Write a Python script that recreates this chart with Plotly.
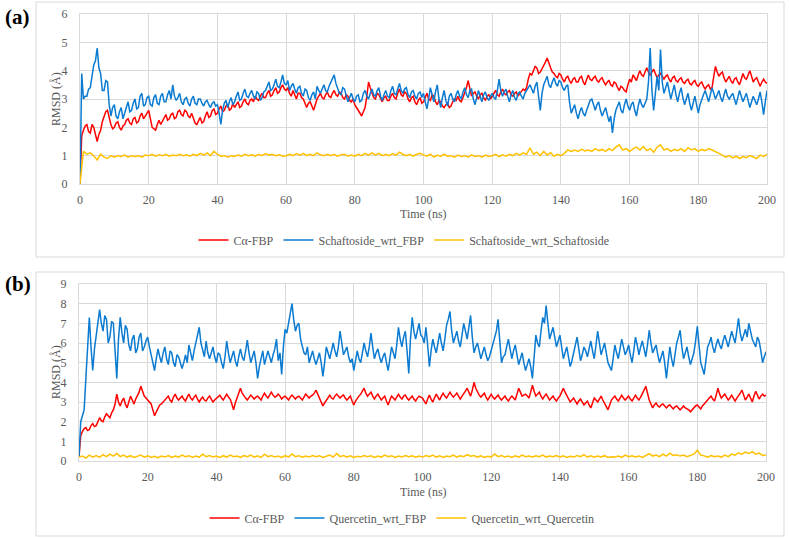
import plotly.graph_objects as go

# ---------------- data ----------------
# time axes: main series sampled every 0.5 ns, ligand-self series every 1 ns
time_half_ns = [i * 0.5 for i in range(401)]
time_ns = list(range(0, 201))

# Panel (a)
ca_fbp_a = [
    0.0, 1.7, 1.9, 2.05, 2.1, 1.85, 1.8, 2.1, 2.0, 1.7, 1.5, 1.75, 1.9, 2.2, 2.4, 2.55, 2.6, 2.3, 2.1, 1.95,
    2.0, 2.15, 2.2, 2.0, 1.9, 2.05, 2.1, 2.25, 2.3, 2.15, 2.1, 2.3, 2.35, 2.15, 2.2, 2.4, 2.5, 2.3, 2.4, 2.55,
    2.6, 2.3, 2.0, 1.95, 1.9, 2.1, 2.25, 2.1, 2.2, 2.35, 2.45, 2.25, 2.3, 2.45, 2.5, 2.3, 2.35, 2.55, 2.6, 2.45,
    2.4, 2.6, 2.55, 2.4, 2.35, 2.5, 2.3, 2.15, 2.1, 2.25, 2.35, 2.15, 2.2, 2.4, 2.55, 2.35, 2.4, 2.6, 2.65, 2.45,
    2.5, 2.65, 2.75, 2.55, 2.6, 2.75, 2.8, 2.6, 2.65, 2.85, 2.7, 2.8, 2.9, 2.7, 2.75, 2.9, 3.0, 2.85, 2.8, 2.95,
    3.0, 2.9, 3.1, 3.0, 2.95, 3.1, 3.2, 3.05, 3.05, 3.2, 3.3, 3.1, 3.15, 3.3, 3.4, 3.2, 3.25, 3.4, 3.5, 3.35,
    3.3, 3.4, 3.2, 3.1, 3.3, 3.15, 3.0, 3.2, 3.2, 3.05, 3.0, 2.85, 2.7, 2.85, 2.9, 2.75, 2.6, 2.8, 3.0, 3.1,
    3.2, 3.05, 3.0, 3.15, 3.25, 3.1, 3.05, 3.2, 3.3, 3.15, 3.1, 3.25, 3.2, 3.05, 3.0, 3.15, 3.1, 2.95, 2.9, 3.0,
    2.8, 2.7, 2.6, 2.45, 2.4, 2.55, 2.7, 3.1, 3.6, 3.4, 3.2, 3.05, 3.0, 3.2, 3.15, 3.0, 2.9, 3.05, 3.1, 2.95,
    2.95, 3.1, 3.2, 3.05, 3.0, 3.2, 3.35, 3.15, 3.1, 3.25, 3.2, 3.0, 2.9, 3.05, 3.1, 2.9, 2.8, 2.95, 3.05, 2.85,
    2.9, 3.05, 3.2, 3.0, 2.95, 3.15, 3.1, 2.9, 2.8, 2.95, 2.9, 2.75, 2.7, 2.8, 2.85, 2.7, 2.75, 2.9, 3.0, 2.95,
    3.1, 2.95, 2.9, 3.05, 3.2, 3.4, 3.65, 3.3, 3.1, 3.2, 3.25, 3.1, 3.0, 3.15, 3.2, 3.05, 2.95, 3.1, 3.15, 3.0,
    3.1, 3.2, 3.3, 3.15, 3.1, 3.25, 3.35, 3.2, 3.15, 3.25, 3.3, 3.15, 3.1, 3.2, 3.25, 3.1, 3.2, 3.3, 3.35, 3.3,
    3.4, 3.7, 3.9, 3.85, 4.0, 4.15, 4.1, 3.9, 3.95, 4.05, 4.15, 4.3, 4.45, 4.25, 4.1, 3.95, 3.9, 3.8, 3.75, 3.9,
    3.85, 3.7, 3.6, 3.75, 3.8, 3.65, 3.55, 3.7, 3.75, 3.6, 3.6, 3.75, 3.8, 3.6, 3.5, 3.7, 3.85, 3.7, 3.65, 3.75,
    3.8, 3.65, 3.6, 3.7, 3.75, 3.6, 3.5, 3.6, 3.65, 3.5, 3.45, 3.6, 3.55, 3.4, 3.3, 3.45, 3.4, 3.3, 3.25, 3.5,
    3.7, 3.6, 3.85, 3.75, 3.65, 3.85, 4.0, 3.85, 3.8, 3.95, 4.1, 3.95, 3.85, 3.95, 4.05, 3.9, 3.75, 3.85, 3.9, 3.8,
    3.7, 3.8, 3.85, 3.7, 3.6, 3.75, 3.8, 3.65, 3.6, 3.7, 3.75, 3.6, 3.55, 3.65, 3.7, 3.55, 3.5, 3.6, 3.65, 3.5,
    3.45, 3.55, 3.6, 3.45, 3.35, 3.45, 3.5, 3.35, 3.4, 3.8, 4.15, 3.95, 3.8, 3.9, 3.95, 3.75, 3.6, 3.7, 3.8, 3.65,
    3.55, 3.7, 3.75, 3.6, 3.5, 3.7, 3.9, 3.75, 3.7, 3.85, 4.0, 3.8, 3.6, 3.7, 3.75, 3.6, 3.45, 3.6, 3.7, 3.6,
    3.55,
]
schaftoside_wrt_fbp = [
    0.0, 3.9, 3.0, 3.1, 3.1, 3.35, 3.4, 3.9, 4.2, 4.35, 4.8, 4.1, 3.9, 3.3, 3.3, 3.65, 3.6, 2.8, 2.4, 2.7,
    2.8, 2.4, 2.3, 2.55, 2.7, 2.3, 2.5, 2.75, 2.9, 2.55, 2.6, 2.85, 3.0, 2.65, 2.7, 3.1, 3.2, 2.75, 2.8, 3.05,
    3.1, 2.8, 2.75, 3.05, 3.15, 2.85, 2.8, 3.1, 3.2, 2.9, 2.9, 3.15, 3.3, 3.0, 3.5, 3.1, 2.95, 3.05, 3.2, 2.9,
    2.8, 3.0, 3.05, 2.85, 2.75, 3.0, 3.1, 2.85, 2.8, 3.0, 3.0, 2.85, 2.75, 2.9, 2.95, 2.8, 2.7, 2.85, 2.9, 2.75,
    2.8, 2.5, 2.1, 2.6, 2.85, 2.95, 2.7, 2.9, 3.05, 2.8, 2.9, 3.1, 3.25, 2.95, 3.0, 3.2, 3.35, 3.1, 3.05, 3.2,
    3.3, 3.1, 3.0, 3.25, 3.2, 2.95, 3.05, 3.25, 3.3, 3.45, 3.6, 3.3, 3.35, 3.5, 3.7, 3.45, 3.4, 3.6, 3.85, 3.55,
    3.5, 3.65, 3.3, 3.45, 3.55, 3.35, 3.2, 3.4, 3.45, 3.2, 3.1, 3.35, 3.3, 3.05, 2.95, 3.15, 3.25, 3.0, 3.45, 3.3,
    3.2, 3.35, 3.5, 3.3, 3.25, 3.45, 3.6, 3.7, 3.85, 3.55, 3.4, 3.2, 3.15, 3.4, 3.35, 3.1, 2.9, 3.05, 3.2, 3.0,
    2.9, 3.1, 3.15, 2.9, 2.95, 3.2, 3.3, 3.1, 3.0, 3.2, 3.35, 3.15, 3.1, 3.3, 3.4, 3.1, 2.95, 3.15, 3.3, 3.1,
    3.05, 3.3, 3.45, 3.2, 3.15, 3.35, 3.55, 3.3, 3.2, 3.35, 3.4, 3.15, 3.05, 3.25, 3.3, 3.1, 3.0, 3.2, 3.25, 3.05,
    3.2, 2.9, 2.65, 3.0, 3.4, 3.15, 2.9, 3.25, 3.5, 3.0, 2.7, 3.05, 3.3, 2.95, 2.75, 3.1, 3.2, 3.0, 2.9, 3.15,
    3.3, 3.1, 3.0, 3.25, 3.4, 3.15, 3.05, 3.3, 3.35, 3.0, 2.8, 3.05, 3.3, 3.1, 2.9, 3.15, 3.25, 3.05, 2.95, 3.1,
    3.2, 3.05, 3.0, 3.3, 3.7, 3.3, 3.1, 3.25, 3.35, 3.1, 2.9, 3.15, 3.3, 3.05, 2.95, 3.2, 3.25, 3.1, 3.0, 3.2,
    3.3, 3.45, 3.5, 3.35, 3.2, 3.45, 3.6, 3.1, 2.6, 3.2, 3.5, 3.65, 3.8, 3.5, 3.4, 3.6, 3.75, 3.55, 3.45, 3.65,
    3.6, 3.4, 3.3, 3.45, 3.5, 2.9, 2.5, 2.65, 2.8, 2.5, 2.3, 2.55, 2.7, 2.5, 2.4, 2.6, 2.8, 2.95, 3.0, 2.75,
    2.6, 2.8, 2.9, 2.6, 2.4, 2.55, 2.7, 2.45, 2.2, 2.4, 1.8, 2.3, 2.6, 2.75, 2.9, 2.6, 2.5, 2.8, 3.0, 2.75,
    2.6, 2.8, 2.9, 2.6, 2.4, 2.75, 3.0, 2.8, 2.7, 2.85, 3.0, 3.6, 4.8, 3.3, 2.6, 3.2, 3.8, 3.3, 4.75, 3.6,
    3.2, 3.4, 3.6, 3.3, 3.0, 3.25, 3.5, 3.15, 2.9, 3.2, 3.4, 3.05, 2.8, 3.0, 3.2, 2.85, 2.6, 2.85, 3.1, 2.8,
    2.5, 2.8, 3.0, 3.15, 3.3, 3.05, 2.9, 3.15, 3.4, 3.2, 3.0, 3.15, 3.3, 3.05, 2.9, 3.15, 3.35, 3.1, 3.0, 3.1,
    3.2, 3.0, 2.8, 3.05, 3.3, 3.1, 2.9, 3.05, 3.2, 2.95, 2.7, 2.9, 3.1, 2.95, 2.8, 3.0, 3.25, 2.9, 2.45, 2.9,
    3.3,
]
schaftoside_wrt_schaftoside = [
    0.0, 1.15, 1.05, 1.1, 1.0, 0.85, 1.05, 0.95, 0.9, 1.0,
    0.95, 1.0, 0.97, 1.02, 0.95, 1.0, 0.97, 1.0, 0.95, 1.02,
    1.0, 1.05, 0.98, 1.03, 1.0, 1.05, 0.98, 1.02, 1.0, 1.05,
    1.0, 1.03, 0.98, 1.05, 1.0, 1.08, 1.02, 1.1, 1.0, 1.15,
    1.05, 0.98, 1.0, 0.95, 1.0, 0.97, 1.02, 0.98, 1.05, 1.0,
    1.03, 0.98, 1.05, 1.0, 1.07, 1.02, 1.05, 1.0, 1.03, 0.98,
    1.0, 1.05, 1.0, 1.07, 1.02, 1.08, 1.0, 1.05, 1.0, 1.1,
    1.03, 1.0, 1.05, 1.0, 1.05, 0.98, 1.03, 1.05, 0.98, 1.02,
    0.98, 1.05, 1.0, 1.08, 1.02, 1.1, 1.03, 1.08, 1.0, 1.05,
    1.0, 1.07, 1.02, 1.12, 1.05, 1.0, 1.05, 0.98, 1.05, 1.08,
    1.03, 0.98, 1.05, 0.95, 1.02, 0.97, 1.05, 0.98, 1.0, 0.95,
    1.02, 0.97, 1.0, 0.95, 1.03, 0.97, 1.0, 0.95, 1.02, 0.97,
    1.0, 1.05, 0.97, 1.03, 0.98, 1.05, 1.0, 1.08, 1.02, 1.1,
    1.05, 1.28, 1.05, 1.12, 1.0, 1.15, 1.02, 1.1, 0.98, 1.05,
    1.0, 1.08, 1.2, 1.15, 1.2, 1.15, 1.22, 1.17, 1.2, 1.15,
    1.25, 1.18, 1.22, 1.15, 1.25, 1.18, 1.3, 1.38, 1.2, 1.25,
    1.15, 1.25, 1.3, 1.2, 1.32, 1.18, 1.25, 1.12, 1.3, 1.38,
    1.2, 1.25, 1.15, 1.22, 1.18, 1.25, 1.15, 1.28, 1.2, 1.25,
    1.15, 1.22, 1.18, 1.25, 1.2, 1.15, 1.08, 1.02, 0.95, 1.0,
    0.92, 0.98, 0.9, 0.97, 0.93, 1.0, 0.95, 0.9, 1.02, 0.97,
    1.05,
]

# Panel (b)
ca_fbp_b = [
    0.2, 1.3, 1.5, 1.65, 1.7, 1.55, 1.6, 1.8, 1.9, 1.75, 1.8, 2.0, 2.2, 2.05, 2.0, 2.25, 2.4, 2.3, 2.2, 2.45,
    2.6, 2.9, 3.4, 3.0, 2.8, 3.05, 3.2, 2.9, 2.7, 3.0, 3.3, 3.1, 2.9, 3.15, 3.3, 3.5, 3.8, 3.55, 3.3, 3.2,
    3.1, 3.0, 2.9, 2.6, 2.3, 2.5, 2.7, 2.85, 2.9, 3.0, 3.1, 3.2, 3.3, 3.1, 3.0, 3.25, 3.4, 3.2, 3.1, 3.2,
    3.3, 3.15, 3.05, 3.25, 3.4, 3.2, 3.1, 3.25, 3.35, 3.15, 3.0, 3.15, 3.25, 3.1, 3.05, 3.2, 3.3, 3.15, 3.0, 3.1,
    3.2, 3.3, 3.35, 3.2, 3.1, 3.25, 3.4, 3.25, 3.15, 2.9, 2.6, 2.95, 3.2, 3.45, 3.7, 3.45, 3.3, 3.2, 3.1, 3.25,
    3.35, 3.25, 3.15, 3.25, 3.3, 3.2, 3.1, 3.3, 3.45, 3.3, 3.2, 3.35, 3.5, 3.35, 3.25, 3.3, 3.4, 3.3, 3.15, 3.25,
    3.3, 3.2, 3.1, 3.25, 3.35, 3.25, 3.15, 3.25, 3.3, 3.2, 3.1, 3.25, 3.4, 3.3, 3.2, 3.3, 3.35, 3.45, 3.6, 3.4,
    3.2, 3.0, 2.8, 2.95, 3.1, 3.25, 3.35, 3.2, 3.15, 3.3, 3.4, 3.3, 3.2, 3.3, 3.35, 3.2, 3.1, 3.2, 3.3, 3.05,
    2.85, 3.05, 3.2, 3.3, 3.4, 3.55, 3.7, 3.45, 3.3, 3.4, 3.5, 3.3, 3.15, 3.3, 3.4, 3.25, 3.1, 3.2, 3.3, 3.05,
    2.85, 3.1, 3.3, 3.2, 3.1, 3.25, 3.4, 3.25, 3.15, 3.3, 3.35, 3.2, 3.1, 3.2, 3.3, 3.15, 3.05, 3.2, 3.3, 3.25,
    3.2, 3.05, 2.9, 3.15, 3.35, 3.15, 3.0, 3.2, 3.4, 3.25, 3.1, 3.3, 3.45, 3.3, 3.2, 3.35, 3.5, 3.35, 3.25, 3.35,
    3.45, 3.3, 3.15, 3.3, 3.4, 3.55, 3.7, 3.5, 3.3, 3.6, 4.0, 3.7, 3.5, 3.35, 3.25, 3.35, 3.45, 3.25, 3.1, 3.25,
    3.4, 3.25, 3.15, 3.25, 3.35, 3.2, 3.1, 3.2, 3.3, 3.15, 3.05, 3.2, 3.3, 3.2, 3.1, 3.4, 3.7, 3.5, 3.3, 3.35,
    3.4, 3.3, 3.2, 3.5, 3.85, 3.55, 3.3, 3.4, 3.5, 3.3, 3.15, 3.3, 3.4, 3.25, 3.1, 3.2, 3.3, 3.15, 3.05, 3.2,
    3.3, 3.5, 3.7, 3.5, 3.35, 3.15, 3.0, 3.1, 3.2, 3.05, 2.9, 3.05, 3.15, 3.0, 2.85, 2.95, 3.05, 2.85, 2.7, 2.95,
    3.2, 3.1, 3.0, 3.15, 3.3, 3.1, 2.95, 2.75, 2.6, 2.85, 3.1, 3.2, 3.3, 3.15, 3.05, 3.2, 3.35, 3.2, 3.1, 3.2,
    3.3, 3.15, 3.05, 3.2, 3.35, 3.2, 3.1, 3.25, 3.4, 3.6, 3.8, 3.4, 3.1, 2.9, 2.7, 2.85, 2.95, 2.8, 2.75, 2.85,
    2.9, 2.8, 2.7, 2.8, 2.85, 2.75, 2.65, 2.75, 2.8, 2.7, 2.6, 2.7, 2.8, 2.7, 2.65, 2.6, 2.5, 2.6, 2.75, 2.8,
    2.85, 2.75, 2.65, 2.8, 2.9, 3.0, 3.1, 3.2, 3.3, 3.15, 3.05, 3.35, 3.7, 3.4, 3.2, 3.3, 3.4, 3.25, 3.1, 3.2,
    3.35, 3.2, 3.05, 3.2, 3.3, 3.45, 3.6, 3.3, 3.1, 3.25, 3.4, 3.2, 3.0, 3.3, 3.55, 3.35, 3.15, 3.3, 3.4, 3.3,
    3.35,
]
quercetin_wrt_fbp = [
    0.2, 2.0, 2.3, 2.6, 4.2, 5.5, 7.3, 5.8, 4.6, 5.7, 6.4, 7.2, 7.7, 7.0, 6.6, 7.4, 7.2, 6.0, 6.3, 7.1,
    7.0, 5.6, 4.2, 6.2, 7.3, 6.5, 6.0, 6.9, 6.7, 5.9, 5.6, 6.2, 6.4, 5.5, 5.7, 6.3, 6.5, 5.6, 5.8, 6.1,
    6.3, 5.8, 5.4, 4.9, 4.6, 5.2, 5.7, 5.3, 5.0, 5.5, 5.8, 5.2, 4.9, 5.6, 5.5, 5.0, 4.8, 5.4, 5.3, 5.0,
    4.7, 5.0, 5.4, 5.0, 5.9, 5.5, 5.1, 5.6, 6.0, 6.3, 6.8, 6.0, 5.6, 5.3, 6.1, 5.5, 5.2, 5.5, 5.8, 5.3,
    5.0, 5.5, 5.4, 5.0, 4.7, 5.3, 6.1, 5.5, 5.0, 5.3, 5.6, 5.1, 4.8, 5.3, 5.7, 5.3, 5.1, 5.6, 6.15, 5.5,
    5.0, 5.3, 5.6, 5.0, 4.2, 4.8, 5.3, 5.6, 4.9, 5.2, 5.6, 5.3, 5.0, 5.4, 5.7, 6.2, 5.1, 5.5, 4.4, 5.8,
    6.7, 6.5, 7.0, 7.3, 8.0, 7.2, 6.6, 6.9, 7.0, 6.2, 5.8, 5.5, 5.4, 5.8, 5.0, 5.3, 5.6, 5.2, 4.9, 5.2,
    5.5, 5.0, 4.3, 5.0, 5.8, 5.5, 5.2, 5.6, 6.0, 5.6, 5.3, 5.8, 6.6, 6.0, 5.4, 5.6, 5.8, 5.3, 5.0, 5.2,
    4.6, 5.1, 5.6, 5.2, 5.0, 5.5, 6.0, 5.6, 5.3, 5.8, 6.5, 5.8, 5.2, 5.5, 5.7, 5.3, 5.0, 5.3, 5.5, 5.0,
    4.6, 5.2, 5.8, 5.5, 5.2, 5.9, 6.8, 6.2, 5.8, 6.3, 6.6, 5.6, 4.45, 6.2, 7.3, 6.6, 6.2, 6.6, 7.0, 6.4,
    6.3, 6.0, 6.8, 5.9, 4.8, 5.6, 6.2, 5.8, 5.5, 6.0, 6.5, 6.0, 5.6, 6.2, 6.9, 7.2, 7.6, 6.6, 6.0, 6.3,
    6.6, 6.1, 5.8, 6.4, 7.0, 6.6, 6.2, 6.8, 7.4, 6.3, 5.5, 5.8, 6.0, 5.6, 5.2, 5.5, 5.8, 5.4, 5.1, 5.3,
    5.6, 5.9, 6.2, 6.6, 7.2, 6.1, 5.0, 5.3, 5.4, 5.8, 6.2, 5.7, 5.2, 5.6, 5.9, 5.4, 4.9, 5.2, 5.5, 5.0,
    4.6, 4.9, 5.2, 4.8, 4.2, 5.3, 6.4, 6.0, 5.8, 6.6, 7.3, 7.0, 7.9, 7.0, 6.2, 6.5, 6.8, 6.3, 5.8, 6.1,
    6.4, 5.8, 5.2, 5.5, 5.8, 5.3, 4.8, 5.1, 5.5, 5.9, 6.3, 5.7, 5.1, 5.4, 5.8, 5.6, 5.3, 5.7, 6.1, 5.6,
    5.2, 5.9, 6.6, 6.0, 5.4, 5.7, 6.0, 5.5, 5.0, 4.8, 4.6, 5.2, 5.9, 5.5, 5.2, 5.7, 6.2, 5.8, 5.4, 5.6,
    5.9, 5.4, 5.0, 5.6, 6.3, 5.9, 5.4, 5.8, 6.1, 5.7, 5.3, 5.9, 6.65, 6.0, 5.5, 5.7, 5.9, 5.4, 5.0, 5.3,
    5.6, 5.0, 4.2, 5.0, 5.8, 5.2, 4.8, 5.4, 6.0, 6.3, 6.65, 5.8, 5.2, 5.5, 5.8, 5.3, 4.9, 5.2, 5.5, 6.1,
    6.85, 5.9, 5.0, 4.7, 4.4, 5.1, 5.8, 6.0, 6.3, 5.8, 5.5, 5.9, 6.2, 5.9, 5.7, 6.1, 6.4, 6.1, 5.8, 6.2,
    6.6, 6.3, 6.0, 6.6, 7.25, 6.5, 6.1, 6.4, 6.7, 6.3, 7.0, 6.6, 6.2, 6.0, 5.8, 6.3, 6.1, 5.6, 5.0, 5.3,
    5.55,
]
quercetin_wrt_quercetin = [
    0.2, 0.25, 0.15, 0.3, 0.2, 0.28, 0.18, 0.32, 0.22, 0.35,
    0.25, 0.38, 0.22, 0.3, 0.2, 0.27, 0.18, 0.25, 0.3, 0.2,
    0.26, 0.18, 0.24, 0.17, 0.25, 0.2, 0.28, 0.18, 0.25, 0.2,
    0.3, 0.22, 0.27, 0.18, 0.25, 0.2, 0.35, 0.22, 0.28, 0.2,
    0.25, 0.18, 0.27, 0.2, 0.3, 0.22, 0.25, 0.18, 0.28, 0.22,
    0.3, 0.2, 0.26, 0.18, 0.35, 0.22, 0.28, 0.2, 0.25, 0.18,
    0.27, 0.2, 0.36, 0.22, 0.27, 0.19, 0.25, 0.2, 0.28, 0.22,
    0.26, 0.18, 0.24, 0.3, 0.2, 0.38, 0.22, 0.28, 0.2, 0.26,
    0.18, 0.24, 0.2, 0.28, 0.22, 0.26, 0.18, 0.25, 0.2, 0.3,
    0.22, 0.27, 0.18, 0.25, 0.2, 0.28, 0.22, 0.26, 0.19, 0.25,
    0.2, 0.28, 0.22, 0.3, 0.2, 0.26, 0.18, 0.25, 0.22, 0.3,
    0.2, 0.27, 0.22, 0.32, 0.24, 0.28, 0.2, 0.26, 0.18, 0.24,
    0.2, 0.36, 0.22, 0.28, 0.2, 0.25, 0.18, 0.26, 0.2, 0.3,
    0.22, 0.25, 0.2, 0.27, 0.22, 0.3, 0.2, 0.25, 0.22, 0.28,
    0.2, 0.26, 0.18, 0.24, 0.2, 0.28, 0.22, 0.32, 0.2, 0.26,
    0.19, 0.25, 0.2, 0.27, 0.18, 0.22, 0.2, 0.25, 0.18, 0.3,
    0.22, 0.27, 0.2, 0.25, 0.18, 0.3, 0.38, 0.25, 0.3, 0.22,
    0.35, 0.25, 0.4, 0.28, 0.32, 0.25, 0.3, 0.22, 0.28, 0.35,
    0.55, 0.3, 0.26, 0.2, 0.28, 0.22, 0.25, 0.2, 0.3, 0.22,
    0.35, 0.3, 0.42, 0.35, 0.45, 0.38, 0.48, 0.35, 0.4, 0.28,
    0.3,
]

x_ticks = [0, 20, 40, 60, 80, 100, 120, 140, 160, 180, 200]
y_ticks_a = [0, 1, 2, 3, 4, 5, 6]
y_ticks_b = [0, 1, 2, 3, 4, 5, 6, 7, 8, 9]

# ---------------- style ----------------
W, H = 789, 538
RED, BLUE, GOLD = "#ff0000", "#0a7bd1", "#ffc000"
GRID = "#d9d9d9"
TXT = "#595959"
FONT = "Liberation Serif, Times New Roman, DejaVu Serif, serif"


def px_x(p):
    return p / W


def px_y(p):
    return 1 - p / H


fig = go.Figure()

series_a = [("C\u03b1-FBP", time_half_ns, ca_fbp_a, RED),
            ("Schaftoside_wrt_FBP", time_half_ns, schaftoside_wrt_fbp, BLUE),
            ("Schaftoside_wrt_Schaftoside", time_ns, schaftoside_wrt_schaftoside, GOLD)]
series_b = [("C\u03b1-FBP", time_half_ns, ca_fbp_b, RED),
            ("Quercetin_wrt_FBP", time_half_ns, quercetin_wrt_fbp, BLUE),
            ("Quercetin_wrt_Quercetin", time_ns, quercetin_wrt_quercetin, GOLD)]

for name, tt, vals, col in series_a:
    fig.add_trace(go.Scatter(x=tt, y=vals, name=name, mode="lines",
                             line=dict(color=col, width=1.5),
                             xaxis="x", yaxis="y", legend="legend"))
for name, tt, vals, col in series_b:
    fig.add_trace(go.Scatter(x=tt, y=vals, name=name, mode="lines",
                             line=dict(color=col, width=1.5),
                             xaxis="x2", yaxis="y2", legend="legend2"))

axis_common = dict(showgrid=True, gridcolor=GRID, gridwidth=1, zeroline=False,
                   showline=True, linecolor=GRID, linewidth=1, mirror=True,
                   automargin=False,
                   ticks="", tickfont=dict(family=FONT, size=12, color=TXT))

fig.update_layout(
    width=W, height=H,
    margin=dict(l=0, r=0, t=0, b=0, autoexpand=False),
    paper_bgcolor="white", plot_bgcolor="white",
    font=dict(family=FONT, size=12, color=TXT),
    xaxis=dict(domain=[px_x(80), px_x(767)], range=[0, 200], tickvals=x_ticks,
               anchor="y", ticklabelstandoff=5, **axis_common),
    yaxis=dict(domain=[px_y(184), px_y(14)], range=[0, 6], tickvals=y_ticks_a,
               anchor="x", ticklabelstandoff=9, **axis_common),
    xaxis2=dict(domain=[px_x(79), px_x(766)], range=[0, 200], tickvals=x_ticks,
                anchor="y2", ticklabelstandoff=5, **axis_common),
    yaxis2=dict(domain=[px_y(461), px_y(284)], range=[0, 9], tickvals=y_ticks_b,
                anchor="x2", ticklabelstandoff=9, **axis_common),
    legend=dict(orientation="h", x=px_x(404), xanchor="center", y=px_y(240), yanchor="middle",
                font=dict(family=FONT, size=12, color=TXT), bgcolor="rgba(0,0,0,0)",
                itemwidth=30, tracegroupgap=0),
    legend2=dict(orientation="h", x=px_x(402), xanchor="center", y=px_y(518), yanchor="middle",
                 font=dict(family=FONT, size=12, color=TXT), bgcolor="rgba(0,0,0,0)",
                 itemwidth=30, tracegroupgap=0),
    showlegend=True,
)

# outer chart boxes
for y0, y1 in [(257, 2), (536, 272)]:
    fig.add_shape(type="rect", xref="paper", yref="paper",
                  x0=px_x(36), x1=px_x(784), y0=px_y(y0), y1=px_y(y1),
                  line=dict(color=GRID, width=1), fillcolor="rgba(0,0,0,0)", layer="below")

# axis titles & panel labels
anns = [
    dict(text="RMSD (\u00c5)", x=px_x(56), y=px_y(99), textangle=-90),
    dict(text="RMSD (\u00c5)", x=px_x(56), y=px_y(372), textangle=-90),
    dict(text="Time (ns)", x=px_x(423), y=px_y(214), textangle=0),
    dict(text="Time (ns)", x=px_x(423), y=px_y(492), textangle=0),
]
for a in anns:
    fig.add_annotation(xref="paper", yref="paper", xanchor="center", yanchor="middle",
                       showarrow=False, font=dict(family=FONT, size=12, color=TXT), **a)
for lbl, yy in [("(a)", 17), ("(b)", 284)]:
    fig.add_annotation(xref="paper", yref="paper", x=px_x(3), y=px_y(yy),
                       xanchor="left", yanchor="middle", showarrow=False,
                       text="<b>" + lbl + "</b>",
                       font=dict(family=FONT, size=21, color="black"))

fig.write_html("out.html", config={"displayModeBar": False},
               post_script="document.body.style.margin='0';")
